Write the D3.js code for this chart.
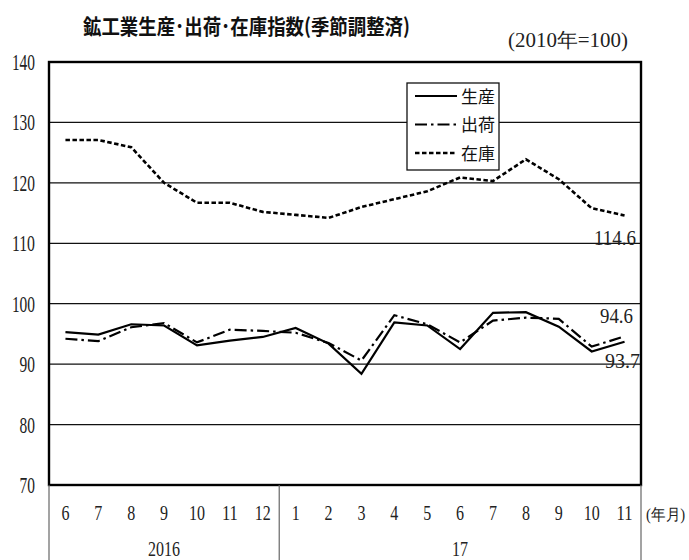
<!DOCTYPE html>
<html>
<head>
<meta charset="utf-8">
<script src="https://cdn.jsdelivr.net/npm/d3@7"></script>
<style>
  html, body { margin: 0; padding: 0; background: #fff; }
  svg { display: block; }
</style>
</head>
<body>
<svg id="chart" width="689" height="560"></svg>
<script>
// Month labels along the x axis (Jun 2016 – Nov 2017)
const months = ["6","7","8","9","10","11","12","1","2","3","4","5","6","7","8","9","10","11"];
const monthYear = ["2016","2016","2016","2016","2016","2016","2016","17","17","17","17","17","17","17","17","17","17","17"];
const years = ["2016", "17"];

// Indices (2010 = 100), seasonally adjusted
const production = [95.3, 94.9, 96.6, 96.4, 93.1, 93.9, 94.5, 96.0, 93.4, 88.4, 96.9, 96.4, 92.5, 98.5, 98.6, 96.2, 92.1, 93.7];
const shipments  = [94.2, 93.8, 96.1, 96.8, 93.6, 95.7, 95.5, 95.2, 93.5, 90.6, 98.1, 96.6, 93.6, 97.2, 97.7, 97.5, 92.9, 94.6];
const inventory  = [127.1, 127.1, 125.9, 120.0, 116.7, 116.7, 115.2, 114.7, 114.2, 116.0, 117.3, 118.6, 120.9, 120.3, 123.9, 120.6, 115.8, 114.6];

const yTicks = [70, 80, 90, 100, 110, 120, 130, 140];

const seriesNames = ["生産", "出荷", "在庫"];

const svg = d3.select("#chart");
const serif = "'Liberation Serif', 'DejaVu Serif', serif";
const gothic = "'Noto Sans CJK JP', 'Noto Sans', sans-serif";

const plotL = 49, plotR = 641, plotT = 62, plotB = 485;

const x = d3.scaleBand().domain(d3.range(months.length)).range([plotL, plotR]);
const y = d3.scaleLinear().domain([70, 140]).range([plotB, plotT]);
const cx = i => x(i) + x.bandwidth() / 2;

// narrow serif text helper
function narrow(g, str, px, py, size, width, anchor) {
  return g.append("text")
    .attr("x", px).attr("y", py)
    .attr("font-family", serif)
    .attr("font-size", size)
    .attr("fill", "#222")
    .attr("text-anchor", anchor || "middle")
    .attr("textLength", width)
    .attr("lengthAdjust", "spacingAndGlyphs")
    .text(str);
}

// Title
svg.append("text")
  .attr("x", 83).attr("y", 34)
  .attr("font-family", gothic)
  .attr("font-weight", "bold")
  .attr("font-size", 21)
  .attr("fill", "#111")
  .attr("textLength", 327)
  .attr("lengthAdjust", "spacingAndGlyphs")
  .text("鉱工業生産･出荷･在庫指数(季節調整済)");

// Base note
narrow(svg, "(2010年=100)", 508, 47, 20, 120, "start");

// Gridlines
svg.append("g").selectAll("line")
  .data(yTicks.filter(t => t > 70 && t < 140))
  .join("line")
  .attr("x1", plotL).attr("x2", plotR)
  .attr("y1", d => y(d)).attr("y2", d => y(d))
  .attr("stroke", "#111").attr("stroke-width", 1.2);

// Y tick labels
const yl = svg.append("g");
yTicks.forEach(t => {
  const s = String(t);
  narrow(yl, s, 35, y(t) + 8, 23, s.length * 7.7, "end");
});

// Lines
const line = d3.line().x((d, i) => cx(i)).y(d => y(d));

const styles = [
  { data: production, dash: null, width: 2.2 },
  { data: shipments, dash: "12,4,2.5,4", width: 2.2 },
  { data: inventory, dash: "4.5,2.5", width: 2.6 }
];

styles.slice().reverse().forEach(s => {
  svg.append("path")
    .datum(s.data)
    .attr("d", line)
    .attr("fill", "none")
    .attr("stroke", "#000")
    .attr("stroke-width", s.width)
    .attr("stroke-dasharray", s.dash);
});

// Latest-value labels
const last = months.length - 1;
narrow(svg, String(inventory[last]), 636, y(inventory[last]) + 30, 22, 42, "end");
narrow(svg, String(shipments[last]), 633, y(shipments[last]) - 13, 22, 33, "end");
narrow(svg, String(production[last]), 640, y(production[last]) + 26, 22, 35, "end");

// Legend
const lg = svg.append("g");
lg.append("rect")
  .attr("x", 407).attr("y", 83).attr("width", 92).attr("height", 87)
  .attr("fill", "#fff").attr("stroke", "#111").attr("stroke-width", 1.3);
styles.forEach((s, i) => {
  const ly = 96 + i * 28.5;
  lg.append("line")
    .attr("x1", 415).attr("x2", 457)
    .attr("y1", ly).attr("y2", ly)
    .attr("stroke", "#000").attr("stroke-width", s.width)
    .attr("stroke-dasharray", s.dash);
  lg.append("text")
    .attr("x", 461).attr("y", ly + 6.5)
    .attr("font-family", gothic)
    .attr("font-size", 17)
    .attr("fill", "#111")
    .text(seriesNames[i]);
});

// Plot frame
svg.append("rect")
  .attr("x", plotL).attr("y", plotT)
  .attr("width", plotR - plotL).attr("height", plotB - plotT)
  .attr("fill", "none").attr("stroke", "#000").attr("stroke-width", 2.4);

// Category table below the plot
const tb = svg.append("g");
const yearStart = years.map(yr => monthYear.indexOf(yr));
const yearEnd = years.map(yr => monthYear.lastIndexOf(yr));
const seps = [plotL].concat(yearEnd.map(e => x(e) + x.bandwidth()));
tb.selectAll("line")
  .data(seps)
  .join("line")
  .attr("x1", d => d).attr("x2", d => d)
  .attr("y1", plotB).attr("y2", 560)
  .attr("stroke", "#666").attr("stroke-width", 1.2);

months.forEach((m, i) => {
  narrow(tb, m, cx(i), 520, 22, m.length * 8, "middle");
});
years.forEach((yr, k) => {
  const mid = (x(yearStart[k]) + x(yearEnd[k]) + x.bandwidth()) / 2;
  narrow(tb, yr, mid, 556, 22, yr.length * 8, "middle");
});
narrow(tb, "(年月)", 646, 520, 16, 39, "start");
</script>
</body>
</html>
